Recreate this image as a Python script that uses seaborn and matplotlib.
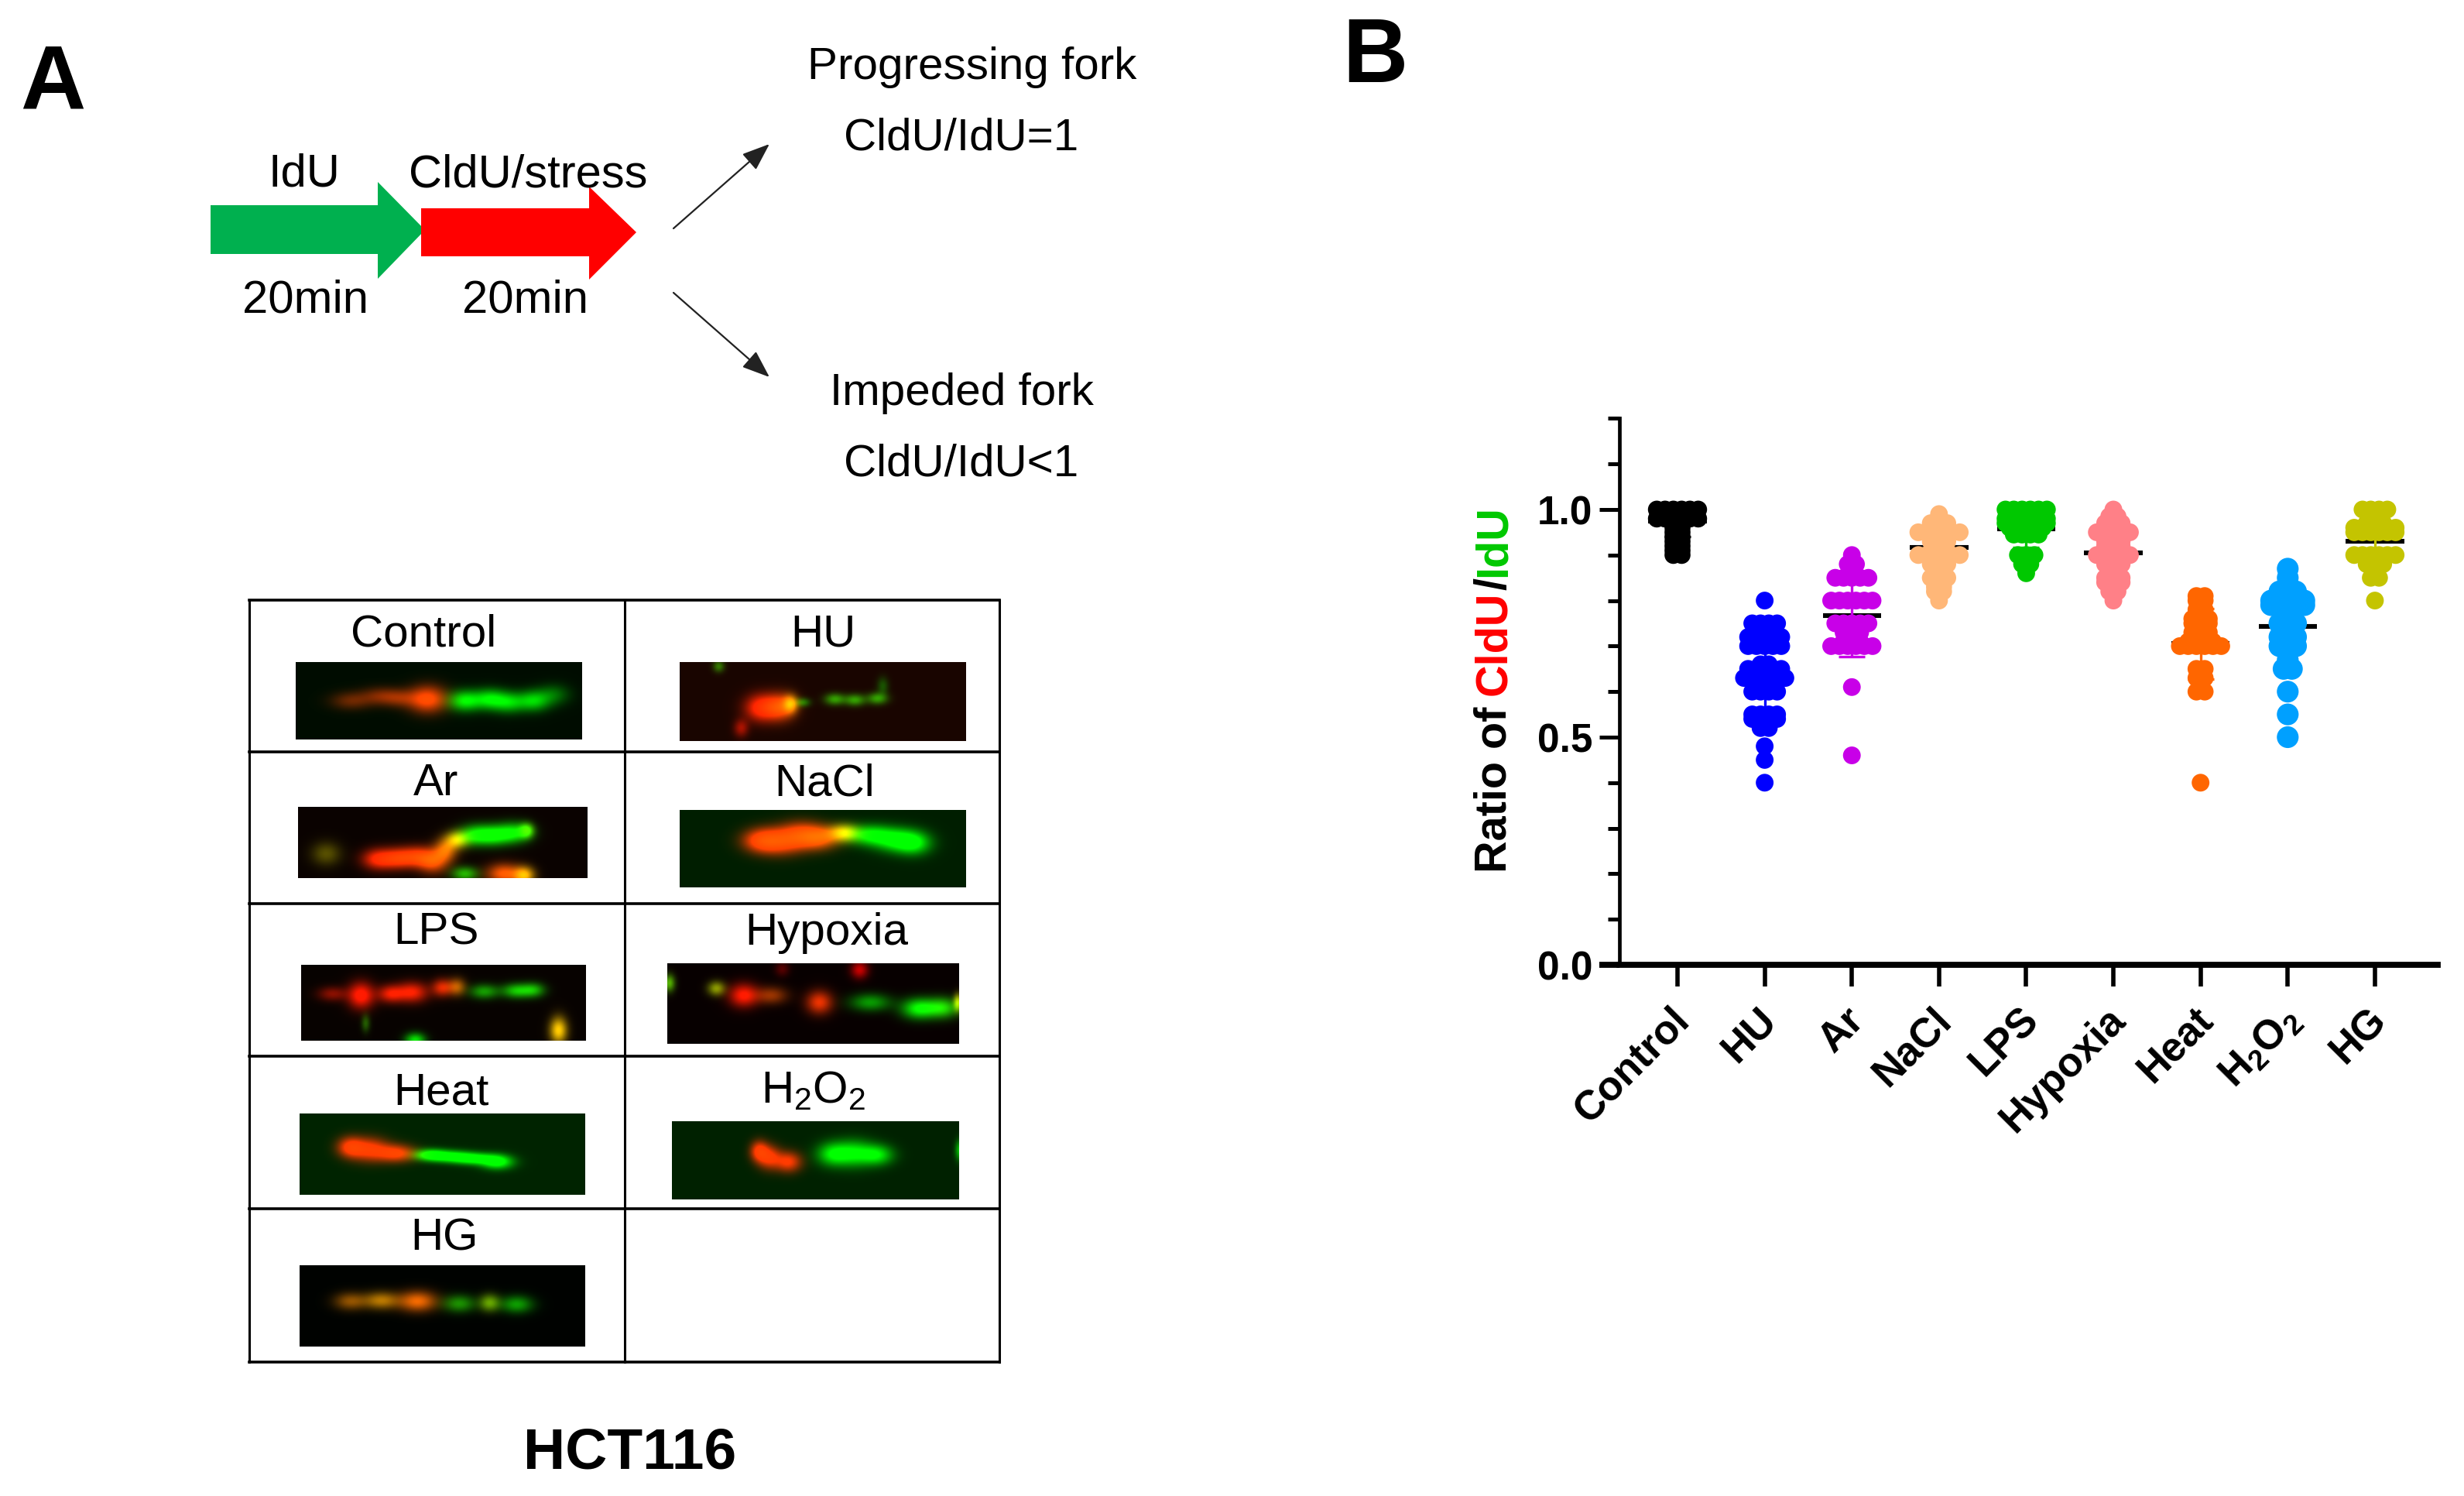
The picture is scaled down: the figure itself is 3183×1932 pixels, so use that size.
import numpy as np
import pandas as pd
import seaborn as sns
import matplotlib
matplotlib.use("Agg")
import matplotlib.pyplot as plt
from matplotlib.transforms import ScaledTranslation

W, H = 3183, 1933
sns.set_theme(style="white")
plt.rcParams["font.family"] = ["Liberation Sans", "DejaVu Sans"]
plt.rcParams["mathtext.fontset"] = "custom"
plt.rcParams["mathtext.rm"] = "Liberation Sans"
plt.rcParams["mathtext.bf"] = "Liberation Sans:bold"
plt.rcParams["mathtext.default"] = "regular"

categories = ["Control", "HU", "Ar", "NaCl", "LPS", "Hypoxia", "Heat", r"$\mathbf{H}_{2}\mathbf{O}_{2}$", "HG"]
colors = ["#000000", "#0000FF", "#C800E8", "#FFB778", "#00C800", "#FF8087", "#FF6600", "#00A0FF", "#C4C400"]

control = [1.0]*6 + [0.98]*6 + [0.97]*2 + [0.96]*2 + [0.95]*2 + [0.94]*2 + [0.93]*2 + [0.92]*2 + [0.91]*2 + [0.90]*2
hu = [0.80] + [0.75]*4 + [0.72]*5 + [0.70]*5 + [0.66]*2 + [0.65]*5 + [0.63]*6 + [0.60]*4 + [0.55]*4 + [0.54]*4 + [0.52]*2 + [0.48] + [0.45] + [0.40]
ar = [0.90] + [0.88]*2 + [0.85]*5 + [0.80]*6 + [0.75]*5 + [0.73]*3 + [0.71]*3 + [0.70]*6 + [0.61] + [0.46]
nacl = [0.99] + [0.97]*3 + [0.96]*3 + [0.95]*6 + [0.93]*3 + [0.90]*6 + [0.88]*3 + [0.85]*3 + [0.83]*2 + [0.82]*2 + [0.80]
lps = [1.0]*6 + [0.98]*6 + [0.97]*6 + [0.96]*5 + [0.945]*4 + [0.90]*3 + [0.88]*2 + [0.86]
hypoxia = [1.0] + [0.985]*2 + [0.97]*3 + [0.95]*5 + [0.93]*3 + [0.92]*3 + [0.90]*5 + [0.88]*3 + [0.87]*2 + [0.85]*3 + [0.84]*3 + [0.82]*2 + [0.80]
heat = [0.81]*2 + [0.80]*2 + [0.78]*2 + [0.76]*3 + [0.75]*3 + [0.73]*3 + [0.71]*4 + [0.70]*6 + [0.65]*2 + [0.63]*2 + [0.60]*2 + [0.40]
h2o2 = [0.87] + [0.85] + [0.82]*3 + [0.80]*5 + [0.79]*5 + [0.75]*3 + [0.72]*3 + [0.70]*3 + [0.67] + [0.65]*2 + [0.60] + [0.55] + [0.50]
hg = [1.0]*4 + [0.97]*3 + [0.96]*6 + [0.95]*6 + [0.90]*6 + [0.88]*3 + [0.85]*2 + [0.80]
groups = [control, hu, ar, nacl, lps, hypoxia, heat, h2o2, hg]
means = [0.975, 0.629, 0.767, 0.916, 0.957, 0.905, 0.705, 0.743, 0.93]
sds = [0.035, 0.10, 0.09, 0.05, 0.04, 0.055, 0.077, 0.085, 0.05]

YTICKS = [0.0, 0.5, 1.0]
YMINOR = [0.1, 0.2, 0.3, 0.4, 0.6, 0.7, 0.8, 0.9, 1.1, 1.2]

STEP = 0.095  # spread between equal values, in category units


def swarm_offsets(vals):
    """Spread equal values symmetrically around the category centre."""
    vals = np.asarray(vals)
    off = np.zeros(len(vals))
    for v in np.unique(vals):
        idx = np.where(vals == v)[0]
        off[idx] = (np.arange(len(idx)) - (len(idx) - 1) / 2) * STEP
    return off


rows = []
for i, vals in enumerate(groups):
    rows.append(pd.DataFrame({"x": i + swarm_offsets(vals), "y": vals, "group": str(i)}))
df = pd.concat(rows, ignore_index=True)

fig = plt.figure(figsize=(W / 100, H / 100), dpi=100, facecolor="white")

# pixel-space layer for panel A and free labels
bg = fig.add_axes([0, 0, 1, 1])
bg.set_axis_off()


def T(x, y, s, size=42, **kw):
    kw.setdefault("ha", "center")
    kw.setdefault("va", "center")
    kw.setdefault("color", "black")
    return bg.text(x, y, s, fontsize=size, **kw)


T(68, 110, "A", size=84, fontweight="bold")
T(1776, 75, "B", size=84, fontweight="bold")
T(393, 225, "IdU", size=43)
T(682, 226, "CldU/stress", size=43)
T(395, 388, "20min", size=43)
T(679, 388, "20min", size=43)
T(1256, 87, "Progressing fork")
T(1242, 179, "CldU/IdU=1")
T(1242, 508, "Impeded fork")
T(1242, 600, "CldU/IdU<1")

bg.fill([272, 488, 488, 549, 488, 488, 272], [266, 266, 236, 298, 361, 329, 329], color="#00B04F", lw=0)
bg.fill([544, 761, 761, 822, 761, 761, 544], [270, 270, 242, 301, 362, 332, 332], color="#FF0000", lw=0)
for start, end in [((870, 296), (994, 187)), ((870, 379), (994, 488))]:
    bg.annotate("", xy=end, xytext=start,
                arrowprops=dict(arrowstyle="-|>,head_length=1.0,head_width=0.38", color="#222222",
                                lw=1.6, shrinkA=0, shrinkB=0, mutation_scale=22))

# table of micrographs
tx = [322, 807, 1291]
ty = [776, 972, 1168, 1365, 1562, 1760]
for y in ty:
    bg.plot([tx[0], tx[2]], [y, y], color="black", lw=2.6, solid_capstyle="projecting")
for x in tx:
    bg.plot([x, x], [ty[0], ty[-1]], color="black", lw=2.2, solid_capstyle="projecting")

for x, y, s in [(547, 820, "Control"), (1063, 820, "HU"), (563, 1012, "Ar"), (1065, 1012, "NaCl"),
                (563, 1205, "LPS"), (1068, 1205, "Hypoxia"), (570, 1412, "Heat"),
                (1051, 1409, "H$_2$O$_2$"), (574, 1600, "HG")]:
    T(x, y, s, size=42)
T(814, 1877, "HCT116", size=54, fontweight="bold")


def micrograph(rect, back, blobs, sx=11, sy=7, blur=1.3):
    x0, x1, y0, y1 = rect
    yy, xx = np.mgrid[0:y1 - y0, 0:x1 - x0]
    img = np.zeros((y1 - y0, x1 - x0, 3))
    img[..., 0] = back[0]
    img[..., 1] = back[1]
    img[..., 2] = back[2]
    for b in blobs:
        bx, by, r, g = b[:4]
        bsx = (b[4] if len(b) > 4 else sx) * blur
        bsy = (b[5] if len(b) > 5 else sy) * blur
        blob = np.exp(-((xx - bx) / bsx) ** 2 / 2 - ((yy - by) / bsy) ** 2 / 2)
        img[..., 0] += r * blob
        img[..., 1] += g * blob
    bg.imshow(np.clip(img, 0, 1), extent=(x0, x1, y1, y0), aspect="auto", zorder=2, interpolation="bilinear")


micrograph((382, 752, 857, 956), (0, 0.05, 0),
           [(71, 49, .4, .1, 14, 6), (110, 43, .45, .1, 14, 6), (135, 46, .4, .1, 12, 6), (170, 47, 1.1, .25, 13, 9),
            (218, 49, 0, .9), (250, 47, 0, .8), (275, 51, 0, .7), (307, 49, 0, .75), (333, 41, 0, .35)])
micrograph((878, 1248, 857, 958), (.1, .02, 0),
           [(105, 58, 1.1, .15, 11, 9), (130, 57, 1, .3, 10, 9), (143, 53, .7, .6, 5, 6), (159, 51, 0, .45, 5, 3),
            (200, 47, .1, .6, 7, 4), (226, 48, .1, .6, 7, 4), (255, 46, .1, .6, 7, 4), (79, 84, .55, .05, 5, 6),
            (50, 5, .1, .45, 4, 4), (262, 30, 0, .3, 4, 6)])
micrograph((385, 759, 1043, 1135), (.04, .01, 0),
           [(103, 67, 1, .15), (129, 66, .95, .2), (154, 64, .95, .2), (174, 70, .9, .3, 10, 8), (190, 55, .8, .4, 8, 8),
            (205, 42, .8, .7, 8, 6), (228, 36, 0, .9), (253, 36, 0, .9), (279, 33, 0, .9), (295, 30, .3, .8, 5, 5),
            (266, 86, 1, .35, 12, 7), (292, 88, .9, .7, 7, 6), (215, 86, .1, .7, 9, 5), (36, 60, .3, .3, 10, 8)])
micrograph((878, 1248, 1047, 1147), (0, .12, 0),
           [(105, 39, 1.1, .15, 13, 8), (130, 40, 1, .15, 15, 9), (156, 32, 1, .15, 14, 9), (181, 35, 1, .25, 13, 8),
            (212, 29, .9, .7, 10, 6), (245, 32, 0, .85, 14, 7), (277, 38, 0, .85, 14, 8), (302, 42, 0, .85, 12, 8)])
micrograph((389, 757, 1247, 1345), (.03, .01, 0),
           [(40, 37, .5, .05, 10, 5), (77, 39, 1.1, .1, 9, 9), (115, 37, .85, .1, 9, 6), (143, 35, .95, .12, 11, 7),
            (182, 29, .85, .15, 7, 6), (201, 28, .65, .35, 6, 6), (236, 34, .05, .6, 10, 5), (278, 33, .05, .75, 10, 5),
            (300, 32, .05, .6, 8, 5), (332, 84, 1, .8, 6, 9), (147, 97, 0, .9, 7, 5), (83, 75, .1, .35, 3, 6)])
micrograph((862, 1239, 1245, 1349), (.03, 0, 0),
           [(63, 32, .5, .6, 6, 5), (98, 41, 1, .1, 10, 8), (134, 41, .55, .2, 11, 6), (196, 50, .9, .2, 9, 8),
            (262, 50, 0, .6, 14, 6), (325, 58, 0, 1, 12, 7), (356, 57, .1, .8, 11, 7), (248, 8, .75, 0, 6, 6),
            (148, 7, .3, 0, 5, 5), (2, 25, .3, .7, 4, 6), (375, 50, .7, .7, 3, 6)])
micrograph((387, 756, 1439, 1544), (0, .14, 0),
           [(65, 43, 1, .1, 9, 7), (90, 46, 1.05, .1, 13, 8), (125, 51, 1.05, .12, 13, 6), (168, 53, 0, .95, 11, 4),
            (195, 55, 0, .9, 14, 4), (225, 58, 0, .95, 14, 4), (255, 62, 0, 1, 11, 5)])
micrograph((868, 1239, 1449, 1550), (0, .13, 0),
           [(112, 38, 1, .1, 6, 7), (125, 46, 1, .1, 8, 8), (150, 52, 1, .1, 9, 7), (207, 42, 0, .75, 11, 8),
            (235, 41, 0, .8, 13, 9), (265, 43, 0, .75, 11, 7), (371, 37, 0, .6, 3, 7)])
micrograph((387, 756, 1635, 1740), (0, .01, 0),
           [(65, 46, .55, .3, 11, 6), (105, 45, .7, .45, 12, 6), (152, 46, .95, .4, 13, 7), (206, 49, .1, .55, 11, 6),
            (245, 48, .4, .6, 7, 6), (280, 50, .05, .6, 11, 6)])

bg.set_xlim(0, W)
bg.set_ylim(H, 0)

# panel B chart: 588 px per unit on y, 112.6 px per category on x
left, right, bottom, top = 2092, 3149, 1247, 541.4
ax = fig.add_axes([left / W, 1 - bottom / H, (right - left) / W, (bottom - top) / H])
ax.patch.set_alpha(0)

for i, (m, sd) in enumerate(zip(means, sds)):
    ax.hlines(m, i - 0.335, i + 0.335, color="black", lw=4.4, zorder=1)
    ax.errorbar(i, m, yerr=sd, color=colors[i], capsize=12.5, capthick=2.4, elinewidth=2.4, zorder=1)

marker_area = {str(i): 272 for i in range(len(groups))}
marker_area["7"] = 410  # the H2O2 symbols are drawn larger in the source
sns.scatterplot(data=df, x="x", y="y", hue="group", palette=colors, size="group", sizes=marker_area, linewidth=0,
                legend=False, clip_on=False, zorder=3, ax=ax)

ax.set_xlim(-0.666, 8.72)
ax.set_ylim(0, 1.2)
ax.set_xlabel("")
ax.set_ylabel("")
sns.despine(ax=ax)
ax.spines["left"].set_linewidth(3.4)
ax.spines["bottom"].set_linewidth(5.6)
for name in ("left", "bottom"):
    ax.spines[name].set_color("black")
ax.set_xticks(range(len(categories)))
ax.set_xticklabels(categories, rotation=45, ha="right", rotation_mode="anchor",
                   fontsize=38, fontweight="bold", color="black")
ax.set_yticks(YTICKS)
ax.set_yticklabels([f"{t:.1f}" for t in YTICKS], fontsize=37, fontweight="bold", color="black")
ax.set_yticks(YMINOR, minor=True)
ax.tick_params(axis="y", which="major", length=19, width=3.6, color="black", left=True, pad=6)
ax.tick_params(axis="y", which="minor", length=10.5, width=3.6, color="black", left=True)
ax.tick_params(axis="x", which="major", length=20, width=4, color="black", bottom=True, pad=8)
ax.yaxis.get_major_ticks()[0].tick1line.set_markeredgewidth(5.6)
shift = ScaledTranslation(-10 / 100, -6 / 100, fig.dpi_scale_trans)
for lab in ax.get_xticklabels():
    lab.set_transform(lab.get_transform() + shift)

# multicoloured y label
renderer = fig.canvas.get_renderer()
ypos = 1127
for piece, col, gap in [("Ratio of", "black", 15), ("CldU", "#FF0000", 1), ("/", "black", 1), ("IdU", "#00C800", 0)]:
    t = T(1945, ypos, piece, size=41.5, fontweight="bold", color=col, rotation=90, rotation_mode="anchor",
          ha="left", va="baseline")
    ext = t.get_window_extent(renderer)
    ypos -= ext.height + gap

fig.savefig("out.png", dpi=100, facecolor="white")
